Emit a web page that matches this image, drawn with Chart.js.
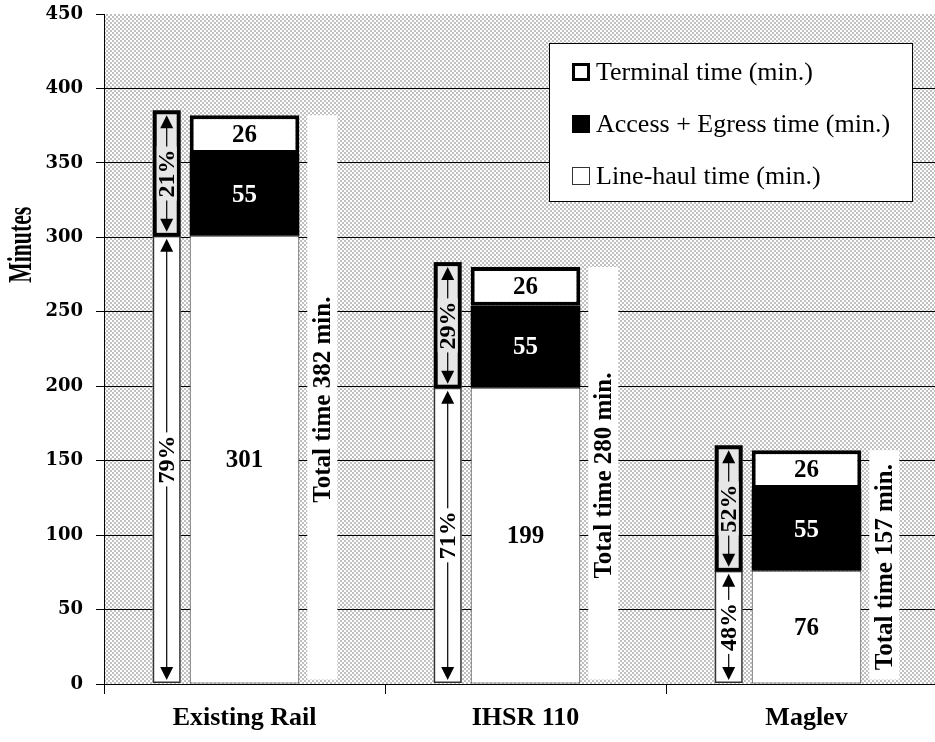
<!DOCTYPE html>
<html><head><meta charset="utf-8">
<script src="https://cdn.jsdelivr.net/npm/chart.js@4.4.1/dist/chart.umd.min.js"></script>
<style>html,body{margin:0;padding:0;overflow:hidden;background:#fff;width:935px;height:742px}canvas{display:block}</style>
</head><body>
<canvas id="c" width="947" height="742"></canvas>
<script>
const categories = ['Existing Rail', 'IHSR 110', 'Maglev'];
const lineHaul = [301, 199, 76];
const accessEgress = [55, 55, 55];
const terminal = [26, 26, 26];
const lineHaulPct = [79, 71, 48];
const otherPct = [21, 29, 52];
const legendLabels = ['Terminal time (min.)', 'Access + Egress time (min.)', 'Line-haul time (min.)'];
const yAxisTitle = 'Minutes';

const totals = categories.map((_, i) => lineHaul[i] + accessEgress[i] + terminal[i]);

const pc = document.createElement('canvas'); pc.width = 4; pc.height = 4;
const px = pc.getContext('2d');
px.fillStyle = '#ffffff'; px.fillRect(0, 0, 4, 4);
px.fillStyle = '#c0c0c0'; px.fillRect(0, 0, 2, 2); px.fillRect(2, 2, 2, 2);

const SERIF = '"Liberation Serif", "Times New Roman", serif';

function rotText(ctx, text, x, y, font, color, sx) {
  ctx.save();
  ctx.translate(x, y);
  ctx.rotate(-Math.PI / 2);
  if (sx) ctx.scale(sx, 1);
  ctx.font = font; ctx.fillStyle = color;
  ctx.textAlign = 'center'; ctx.textBaseline = 'middle';
  ctx.fillText(text, 0, 1);
  ctx.restore();
}

function arrowBox(ctx, x, w, yTop, yBot, text, upper) {
  const cx = x + w / 2;
  ctx.save();
  ctx.fillStyle = upper ? '#e6e6e6' : '#ffffff';
  ctx.fillRect(x, yTop, w, yBot - yTop);
  ctx.strokeStyle = upper ? '#000' : '#333';
  ctx.lineWidth = upper ? 4 : 1.5;
  const inset = upper ? 2 : 0.75;
  ctx.strokeRect(x + inset, yTop + inset, w - 2 * inset, yBot - yTop - 2 * inset);
  const pad = upper ? 5 : 3;
  const t = yTop + pad, b = yBot - pad;
  ctx.strokeStyle = '#000'; ctx.lineWidth = 1.2;
  ctx.beginPath(); ctx.moveTo(cx, t + 6); ctx.lineTo(cx, b - 6); ctx.stroke();
  ctx.fillStyle = '#000';
  ctx.beginPath(); ctx.moveTo(cx, t); ctx.lineTo(cx - 6.5, t + 13); ctx.lineTo(cx + 6.5, t + 13); ctx.closePath(); ctx.fill();
  ctx.beginPath(); ctx.moveTo(cx, b); ctx.lineTo(cx - 6.5, b - 13); ctx.lineTo(cx + 6.5, b - 13); ctx.closePath(); ctx.fill();
  const cy = (yTop + yBot) / 2;
  const font = 'bold 24px ' + SERIF;
  ctx.font = font;
  const tw = ctx.measureText(text).width;
  ctx.fillStyle = upper ? '#e6e6e6' : '#ffffff';
  ctx.fillRect(cx - 10, cy - tw / 2 - 3, 20, tw + 6);
  ctx.restore();
  rotText(ctx, text, cx, cy, font, '#000');
}

const bgPlugin = {
  id: 'bg',
  beforeDraw(chart) {
    const { ctx, chartArea: a } = chart;
    ctx.save();
    ctx.fillStyle = ctx.createPattern(pc, 'repeat');
    ctx.fillRect(a.left, a.top, a.right - a.left, a.bottom - a.top);
    ctx.restore();
  }
};

const annPlugin = {
  id: 'ann',
  afterDatasetsDraw(chart) {
    const ctx = chart.ctx;
    const ys = chart.scales.y;
    const meta0 = chart.getDatasetMeta(0);
    categories.forEach((c, i) => {
      const bar = meta0.data[i];
      const left = bar.x - bar.width / 2, right = bar.x + bar.width / 2;
      const tTop = ys.getPixelForValue(totals[i]);
      const tBot = ys.getPixelForValue(3);
      ctx.fillStyle = '#ffffff';
      ctx.fillRect(right + 8, tTop, 30, tBot - tTop);
      rotText(ctx, 'Total time ' + totals[i] + ' min.', right + 23, ys.getPixelForValue(totals[i] / 2), 'bold 25px ' + SERIF, '#000');
      const bx = left - 37, bw = 28;
      const y0 = ys.getPixelForValue(0) - 1;
      const yL = ys.getPixelForValue(lineHaul[i]);
      arrowBox(ctx, bx, bw, yL, y0, lineHaulPct[i] + '%', false);
      arrowBox(ctx, bx, bw, tTop - 5, yL + 1, otherPct[i] + '%', true);
    });
    const sets = [lineHaul, accessEgress, terminal];
    const colors = ['#000', '#fff', '#000'];
    sets.forEach((arr, d) => {
      const meta = chart.getDatasetMeta(d);
      meta.data.forEach((el, i) => {
        ctx.save();
        ctx.font = 'bold 25px ' + SERIF;
        ctx.fillStyle = colors[d];
        ctx.textAlign = 'center'; ctx.textBaseline = 'middle';
        ctx.fillText(String(arr[i]), el.x, (el.y + el.base) / 2 + 1);
        ctx.restore();
      });
    });
  },
  afterDraw(chart) {
    const ctx = chart.ctx;
    const a = chart.chartArea;
    rotText(ctx, yAxisTitle, 21, chart.scales.y.getPixelForValue(295), 'bold 34px ' + SERIF, '#000', 0.64);
    const lx = a.left + 445, ly = a.top + 29, lw = 364, lh = 159;
    ctx.save();
    ctx.fillStyle = '#fff';
    ctx.fillRect(lx, ly, lw, lh);
    ctx.strokeStyle = '#000'; ctx.lineWidth = 1;
    ctx.strokeRect(lx + 0.5, ly + 0.5, lw - 1, lh - 1);
    ctx.font = '26px ' + SERIF;
    ctx.textBaseline = 'middle'; ctx.textAlign = 'left'; ctx.fillStyle = '#000';
    legendLabels.forEach((t, k) => {
      const cy = ly + 29 + k * 52;
      const mx = lx + 23, ms = 18;
      if (k === 0) {
        ctx.fillStyle = '#000'; ctx.fillRect(mx, cy - ms / 2, ms, ms);
        ctx.fillStyle = '#fff'; ctx.fillRect(mx + 3, cy - ms / 2 + 3, ms - 6, ms - 6);
      } else if (k === 1) {
        ctx.fillStyle = '#000'; ctx.fillRect(mx, cy - ms / 2, ms, ms);
      } else {
        ctx.fillStyle = '#fff'; ctx.fillRect(mx, cy - ms / 2, ms, ms);
        ctx.strokeStyle = '#333'; ctx.lineWidth = 1;
        ctx.strokeRect(mx + 0.5, cy - ms / 2 + 0.5, ms - 1, ms - 1);
      }
      ctx.fillStyle = '#000';
      ctx.fillText(t, mx + 24, cy + 1);
    });
    ctx.restore();
  }
};

new Chart(document.getElementById('c'), {
  type: 'bar',
  data: {
    labels: categories,
    datasets: [
      { label: legendLabels[2], data: lineHaul, backgroundColor: '#ffffff', borderColor: '#333', borderWidth: 1, borderSkipped: false },
      { label: legendLabels[1], data: accessEgress, backgroundColor: '#000000', borderWidth: 0 },
      { label: legendLabels[0], data: terminal, backgroundColor: '#ffffff', borderColor: '#000', borderWidth: 4, borderSkipped: false }
    ]
  },
  options: {
    responsive: false,
    animation: false,
    devicePixelRatio: 1,
    barPercentage: 0.39,
    categoryPercentage: 1,
    layout: { padding: { top: 14, right: 0, left: 0, bottom: 0 } },
    plugins: { legend: { display: false }, tooltip: { enabled: false } },
    scales: {
      x: {
        stacked: true,
        grid: { offset: true, drawOnChartArea: false, drawTicks: true, tickLength: 10, color: '#000', tickColor: '#000' },
        border: { display: true, color: '#000', width: 1 },
        ticks: { color: '#000', padding: 9, font: { family: SERIF, size: 26, weight: 'bold' } },
        afterFit(s) { s.height = 58; s.paddingLeft = 0; s.paddingRight = 0; }
      },
      y: {
        stacked: true,
        min: 0, max: 450,
        grid: { color: c => (c.tick && c.tick.value === 450) ? 'rgba(0,0,0,0)' : '#000', tickColor: '#000', tickLength: 8, drawTicks: true },
        border: { display: true, color: '#000', width: 1 },
        ticks: { stepSize: 50, color: '#000', padding: 13, font: { family: '"DejaVu Serif", serif', size: 18, weight: 'bold' } },
        afterFit(s) { s.width = 104; s.paddingTop = 0; s.paddingBottom = 0; }
      }
    }
  },
  plugins: [bgPlugin, annPlugin]
});
</script>
</body></html>
